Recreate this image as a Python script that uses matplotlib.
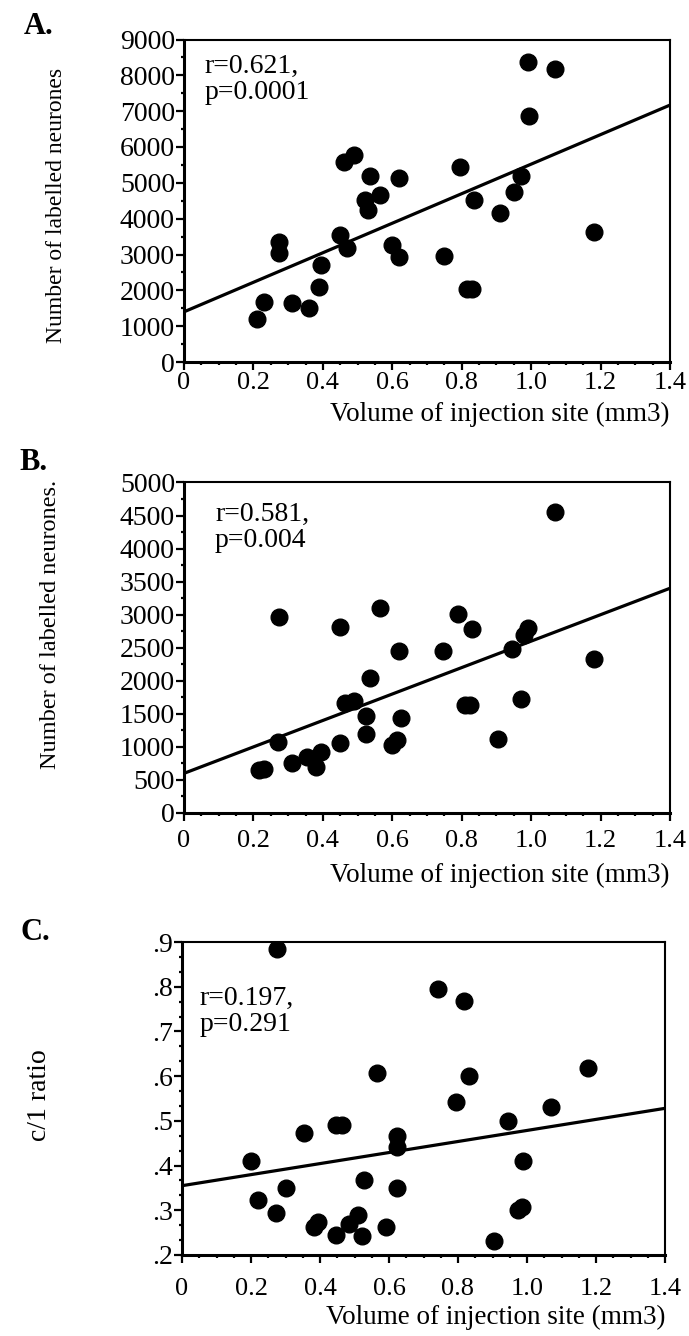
"""Three scatter panels: labelled neurones / c:i ratio vs injection volume."""
import matplotlib
matplotlib.use("Agg")
import matplotlib.pyplot as plt
from matplotlib.ticker import MultipleLocator, AutoMinorLocator

plt.rcParams["font.family"] = ["Liberation Serif", "DejaVu Serif"]

# ---- data ----
x_ticks = [0, 0.2, 0.4, 0.6, 0.8, 1.0, 1.2, 1.4]
x_labels = ["0", "0.2", "0.4", "0.6", "0.8", "1.0", "1.2", "1.4"]
line_x = [0, 1.4]

a_vol = [0.99, 1.07, 0.995, 0.46, 0.49, 0.535, 0.62, 0.565, 0.52, 0.53,
         0.795, 0.835, 0.97, 0.95, 0.91, 1.18, 0.45, 0.47, 0.60, 0.62,
         0.75, 0.275, 0.275, 0.395, 0.39, 0.815, 0.83, 0.23, 0.21, 0.31, 0.36]
a_count = [8380, 8170, 6870, 5590, 5780, 5190, 5130, 4660, 4520, 4240,
           5450, 4520, 5190, 4750, 4170, 3640, 3540, 3170, 3270, 2920,
           2960, 3350, 3040, 2710, 2100, 2030, 2030, 1680, 1190, 1655, 1500]
a_line = [1400, 7170]
a_yticks = list(range(0, 9001, 1000))

b_vol = [1.07, 0.275, 0.565, 0.45, 0.79, 0.83, 0.99, 0.98, 0.62, 0.745,
         0.945, 1.18, 0.535, 0.465, 0.49, 0.81, 0.825, 0.97, 0.525, 0.625,
         0.525, 0.615, 0.60, 0.905, 0.27, 0.45, 0.355, 0.395, 0.38, 0.31,
         0.215, 0.23]
b_count = [4560, 2960, 3100, 2810, 3010, 2790, 2800, 2700, 2450, 2450,
           2480, 2330, 2040, 1670, 1700, 1630, 1630, 1720, 1460, 1440,
           1190, 1100, 1030, 1115, 1080, 1055, 850, 930, 700, 750,
           650, 665]
b_line = [600, 3400]
b_yticks = list(range(0, 5001, 500))

c_vol = [0.274, 0.742, 0.818, 0.566, 0.831, 1.177, 0.793, 1.069, 0.946, 0.445,
         0.465, 0.353, 0.624, 0.624, 0.200, 0.989, 0.528, 0.30, 0.624, 0.220,
         0.273, 0.975, 0.985, 0.382, 0.395, 0.484, 0.509, 0.445, 0.522, 0.592,
         0.904]
c_ratio = [0.885, 0.796, 0.767, 0.607, 0.600, 0.619, 0.543, 0.531, 0.499, 0.491,
           0.491, 0.472, 0.467, 0.441, 0.411, 0.411, 0.367, 0.350, 0.350, 0.324,
           0.294, 0.300, 0.307, 0.263, 0.274, 0.270, 0.289, 0.244, 0.242, 0.263,
           0.232]
c_line = [0.355, 0.528]
c_yticks = [0.2, 0.3, 0.4, 0.5, 0.6, 0.7, 0.8, 0.9]
c_ylabels = [".2", ".3", ".4", ".5", ".6", ".7", ".8", ".9"]

W, H = 689, 1336
fig = plt.figure(figsize=(W / 100, H / 100), dpi=100)


def box(left, top, right, bottom):
    return [left / W, 1 - bottom / H, (right - left) / W, (bottom - top) / H]


def panel(rect, vol, val, line, ylim, xpad):
    ax = fig.add_axes(rect)
    ax.plot(vol, val, "o", color="black", ms=12, mec="black")
    ax.plot(line_x, line, color="black", lw=2.3, solid_capstyle="butt")
    ax.set_xlim(0, 1.4)
    ax.set_ylim(*ylim)
    ax.set_xticks(x_ticks)
    ax.set_xticklabels(x_labels)
    ax.xaxis.set_minor_locator(MultipleLocator(0.05))
    for side in ("left", "bottom"):
        ax.spines[side].set_linewidth(2.2)
    for side in ("top", "right"):
        ax.spines[side].set_linewidth(1.5)
    ax.tick_params(which="major", direction="out", length=5.5, width=1.6,
                   pad=2, colors="black")
    ax.tick_params(which="minor", direction="out", length=2.5, width=1.6)
    ax.tick_params(axis="x", labelsize=19, pad=xpad)
    ax.tick_params(axis="y", labelsize=20, pad=1)
    return ax


def xlabel(ax, y):
    ax.set_xlabel("Volume of injection site (mm3)", fontsize=19.5,
                  loc="right", va="center")
    ax.xaxis.set_label_coords(1.0, y)


# A
ax = panel(box(184, 39.5, 670, 362), a_vol, a_count, a_line, (0, 9000), 2)
ax.set_yticks(a_yticks)
ax.yaxis.set_minor_locator(AutoMinorLocator(2))
ax.text(0.043, 0.955, "r=0.621,\np=0.0001", transform=ax.transAxes,
        fontsize=20, va="top", ha="left", linespacing=1.05)
xlabel(ax, -0.164)
ax.set_ylabel("Number of labelled neurones", fontsize=17, va="center")
ax.yaxis.set_label_coords(-0.263, 0.487)
fig.text(24 / W, 1 - 27 / H, "A.", fontsize=22, fontweight="bold", va="center")

# B
ax = panel(box(184, 482.5, 670, 813), b_vol, b_count, b_line, (0, 5000), 7)
ax.set_yticks(b_yticks)
ax.yaxis.set_minor_locator(AutoMinorLocator(2))
ax.text(0.064, 0.94, "r=0.581,\np=0.004", transform=ax.transAxes,
        fontsize=20, va="top", ha="left", linespacing=1.05)
xlabel(ax, -0.19)
ax.set_ylabel("Number of labelled neurones.", fontsize=17.5, va="center")
ax.yaxis.set_label_coords(-0.275, 0.57)
fig.text(19 / W, 1 - 462 / H, "B.", fontsize=22, fontweight="bold", va="center")

# C
ax = panel(box(182, 942, 665, 1255), c_vol, c_ratio, c_line, (0.2, 0.9), 11)
ax.set_yticks(c_yticks)
ax.set_yticklabels(c_ylabels)
ax.yaxis.set_minor_locator(AutoMinorLocator(3))
ax.text(0.037, 0.86, "r=0.197,\np=0.291", transform=ax.transAxes,
        fontsize=20, va="top", ha="left", linespacing=1.05)
xlabel(ax, -0.198)
ax.set_ylabel("c/1 ratio", fontsize=20, va="center")
ax.yaxis.set_label_coords(-0.294, 0.511)
fig.text(21 / W, 1 - 933 / H, "C.", fontsize=22, fontweight="bold", va="center")

fig.savefig("out.png", dpi=100)
